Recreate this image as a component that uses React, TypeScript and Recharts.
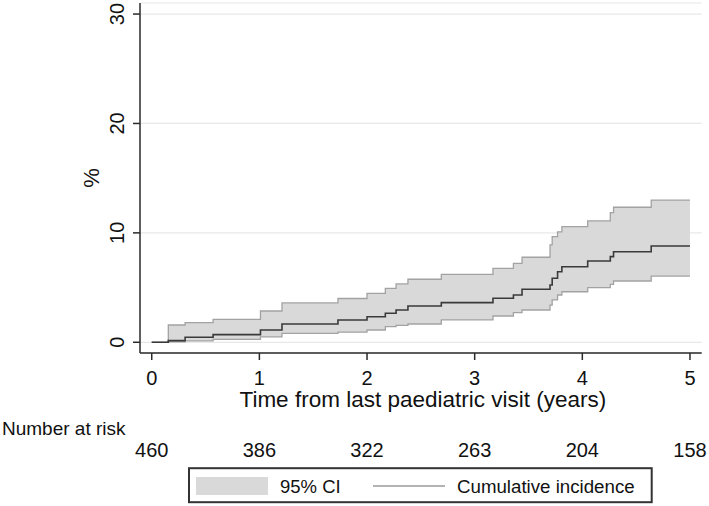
import React from 'react';
import { ComposedChart, Area, Line, XAxis, YAxis, CartesianGrid } from 'recharts';

const times = [0, 0.154, 0.31, 0.57, 1.01, 1.21, 1.73, 2.0, 2.17, 2.27, 2.38, 2.69, 3.17, 3.36, 3.44, 3.70, 3.72, 3.77, 3.81, 4.05, 4.26, 4.29, 4.64, 5.0];
const incidence = [0, 0.15, 0.46, 0.70, 1.12, 1.67, 2.04, 2.34, 2.65, 2.95, 3.32, 3.62, 4.02, 4.32, 4.84, 5.24, 5.85, 6.45, 6.91, 7.43, 7.83, 8.28, 8.8, 8.8];
const lower = [0, 0.05, 0.12, 0.27, 0.5, 0.82, 0.92, 1.12, 1.43, 1.55, 1.67, 2.04, 2.4, 2.71, 2.95, 3.4, 3.87, 4.32, 4.62, 5.0, 5.3, 5.6, 6.05, 6.05];
const upper = [0, 1.58, 1.8, 2.1, 2.86, 3.6, 4.0, 4.47, 4.93, 5.33, 5.76, 6.2, 6.76, 7.22, 7.77, 8.9, 9.65, 10.1, 10.57, 11.1, 11.85, 12.34, 13.0, 13.0];

const xTicks = [0, 1, 2, 3, 4, 5];
const yTicks = [0, 10, 20, 30];
const numberAtRisk = [460, 386, 322, 263, 204, 158];

const xTitle = 'Time from last paediatric visit (years)';
const yTitle = '%';
const riskTitle = 'Number at risk';
const ciLabel = '95% CI';
const lineLabel = 'Cumulative incidence';

const data = times.map((t, i) => ({ t, inc: incidence[i], ci: [lower[i], upper[i]] }));

const FONT = '"Liberation Sans", Arial, Helvetica, sans-serif';
const TEXT = '#111';
const AXIS = '#2a2a2a';

const XTick = (props: any) => {
  const { x, y, payload } = props;
  return (
    <text x={x} y={y + 25} textAnchor="middle" fontFamily={FONT} fontSize={20} fill={TEXT}>
      {payload.value}
    </text>
  );
};

const RiskTick = (props: any) => {
  const { x, y, payload } = props;
  const idx = xTicks.indexOf(payload.value);
  return (
    <text x={x} y={y + 32} textAnchor="middle" fontFamily={FONT} fontSize={20} fill={TEXT}>
      {idx >= 0 ? numberAtRisk[idx] : ''}
    </text>
  );
};

const YTick = (props: any) => {
  const { x, y, payload } = props;
  const bx = x - 9;
  return (
    <text x={bx} y={y} transform={`rotate(-90, ${bx}, ${y})`} textAnchor="middle" fontFamily={FONT} fontSize={20} fill={TEXT}>
      {payload.value}
    </text>
  );
};

export default function App() {
  return (
    <div style={{ position: 'absolute', left: 0, top: 0, width: 709, height: 506, background: '#fff' }}>
      <ComposedChart width={709} height={506} data={data} margin={{ top: 3, right: 7.3, bottom: 43, left: 60 }}>
        <CartesianGrid xAxisId="main" horizontal={true} vertical={false} stroke="#e8e8e8" strokeWidth={1.2} />
        <XAxis
          xAxisId="main"
          type="number"
          dataKey="t"
          domain={[-0.109, 5.109]}
          ticks={xTicks}
          allowDataOverflow
          height={72}
          tickSize={7}
          tickMargin={0}
          stroke={AXIS}
          axisLine={{ stroke: AXIS, strokeWidth: 1.5 }}
          tickLine={{ stroke: AXIS, strokeWidth: 1.5 }}
          tick={<XTick />}
          label={{
            content: (p: any) => {
              const vb = p.viewBox;
              return (
                <text x={vb.x + vb.width / 2 + 2} y={vb.y + 54} textAnchor="middle" fontFamily={FONT} fontSize={22.5} fill={TEXT}>
                  {xTitle}
                </text>
              );
            },
          }}
        />
        <XAxis
          xAxisId="risk"
          type="number"
          dataKey="t"
          domain={[-0.109, 5.109]}
          ticks={xTicks}
          allowDataOverflow
          height={38}
          tickSize={0}
          tickMargin={0}
          axisLine={false}
          tickLine={false}
          tick={<RiskTick />}
          label={{
            content: (p: any) => {
              const vb = p.viewBox;
              return (
                <text x={2} y={vb.y + 10} textAnchor="start" fontFamily={FONT} fontSize={19} fill={TEXT}>
                  {riskTitle}
                </text>
              );
            },
          }}
        />
        <YAxis
          type="number"
          domain={[-0.98, 31.01]}
          ticks={yTicks}
          allowDataOverflow
          width={80}
          tickSize={7}
          tickMargin={0}
          stroke={AXIS}
          axisLine={{ stroke: AXIS, strokeWidth: 1.5 }}
          tickLine={{ stroke: AXIS, strokeWidth: 1.5 }}
          tick={<YTick />}
          label={{
            content: (p: any) => {
              const vb = p.viewBox;
              const bx = vb.x + 39;
              const cy = vb.y + vb.height / 2;
              return (
                <text x={bx} y={cy} transform={`rotate(-90, ${bx}, ${cy})`} textAnchor="middle" fontFamily={FONT} fontSize={22} fill={TEXT}>
                  {yTitle}
                </text>
              );
            },
          }}
        />
        <Area
          xAxisId="main"
          dataKey="ci"
          type="stepAfter"
          fill="#d9d9d9"
          fillOpacity={1}
          stroke="#a2a2a2"
          strokeWidth={1.3}
          dot={false}
          activeDot={false}
          isAnimationActive={false}
        />
        <Line
          xAxisId="main"
          dataKey="inc"
          type="stepAfter"
          stroke="#3a3a3a"
          strokeWidth={1.6}
          dot={false}
          activeDot={false}
          isAnimationActive={false}
        />
      </ComposedChart>
      <svg width={709} height={506} style={{ position: 'absolute', left: 0, top: 0, pointerEvents: 'none' }}>
        <rect x={189} y={468.2} width={462.7} height={34} fill="#fff" stroke="#333" strokeWidth={2} />
        <rect x={196} y={477} width={72} height={18} fill="#d9d9d9" />
        <text x={280} y={493} fontFamily={FONT} fontSize={18.5} fill={TEXT}>{ciLabel}</text>
        <line x1={373} x2={445} y1={486} y2={486} stroke="#9a9a9a" strokeWidth={1.5} />
        <text x={457} y={493} fontFamily={FONT} fontSize={18.7} fill={TEXT}>{lineLabel}</text>
      </svg>
    </div>
  );
}
